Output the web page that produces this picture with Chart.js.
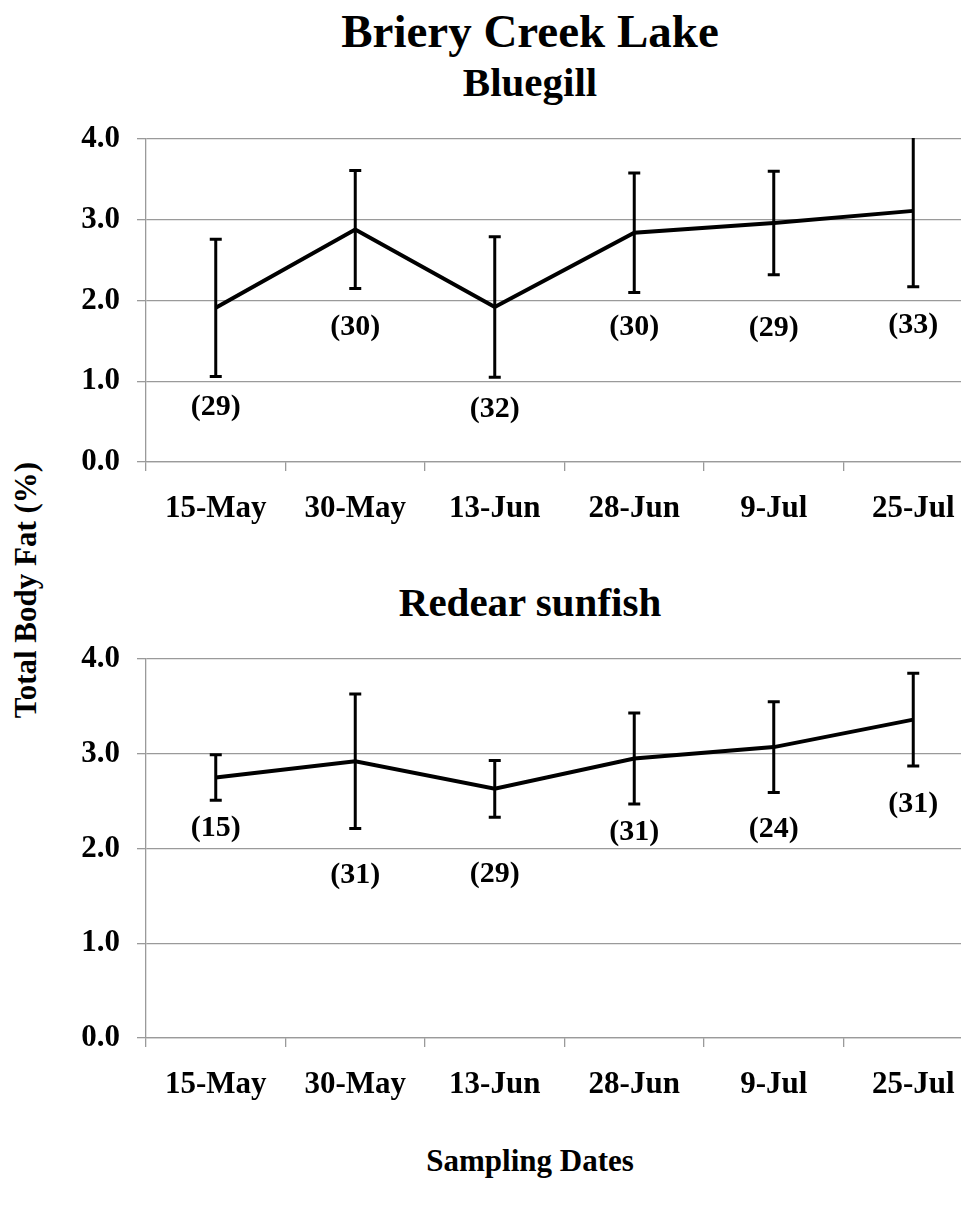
<!DOCTYPE html>
<html>
<head>
<meta charset="utf-8">
<script src="https://cdn.jsdelivr.net/npm/chart.js@4/dist/chart.umd.min.js"></script>
<style>
  html, body { margin: 0; padding: 0; background: #fff; overflow: hidden; }
  body { width: 961px; height: 1206px; position: relative; font-family: 'Liberation Serif', 'Times New Roman', serif; font-weight: bold; color: #000; }
  .txt { position: absolute; white-space: nowrap; line-height: 1; }
  .center { transform: translate(-50%, -50%); }
  canvas { position: absolute; left: 0; }
</style>
</head>
<body>
<div class="txt center" style="left:530px; top:31px; font-size:47px;">Briery Creek Lake</div>
<div class="txt center" style="left:530px; top:82px; font-size:41px;">Bluegill</div>
<div class="txt center" style="left:530px; top:602px; font-size:41px;">Redear sunfish</div>
<div class="txt center" style="left:530px; top:1160px; font-size:31px;">Sampling Dates</div>
<div class="txt" style="left:25px; top:590px; font-size:31px; transform: translate(-50%, -50%) rotate(-90deg);">Total Body Fat (%)</div>

<canvas id="bluegill" width="990" height="422" style="top:120px;"></canvas>
<canvas id="redear" width="990" height="478" style="top:640px;"></canvas>

<script>
// sampling dates (x categories)
const dates = ['15-May', '30-May', '13-Jun', '28-Jun', '9-Jul', '25-Jul'];
const yTickValues = [0, 1, 2, 3, 4];

// Bluegill: mean total body fat (%), error (+/-), sample size
const bluegillFat = [1.91, 2.88, 1.92, 2.84, 2.96, 3.11];
const bluegillErr = [0.85, 0.73, 0.87, 0.74, 0.64, 0.94];
const bluegillN = [29, 30, 32, 30, 29, 33];

// Redear sunfish
const redearFat = [2.75, 2.92, 2.63, 2.95, 3.07, 3.36];
const redearErr = [0.24, 0.71, 0.30, 0.48, 0.48, 0.49];
const redearN = [15, 31, 29, 31, 24, 31];

const FONT = "'Liberation Serif', 'Times New Roman', serif";
const GRID = '#9a9a9a';

// draws the error bars and the (n) labels under them
function errorBarPlugin(err, n, labelGap) {
  return {
    id: 'errorBars',
    afterDatasetsDraw(chart) {
      const { ctx, chartArea, scales } = chart;
      const means = chart.data.datasets[0].data;
      ctx.save();
      ctx.beginPath();
      ctx.rect(chartArea.left, chartArea.top - 1, chartArea.right - chartArea.left, chartArea.bottom - chartArea.top + 1);
      ctx.clip();
      ctx.strokeStyle = '#000';
      ctx.lineWidth = 3;
      means.forEach((m, i) => {
        const px = scales.x.getPixelForValue(i);
        const hi = scales.y.getPixelForValue(m + err[i]);
        const lo = scales.y.getPixelForValue(m - err[i]);
        ctx.beginPath();
        ctx.moveTo(px, hi); ctx.lineTo(px, lo);
        ctx.moveTo(px - 6, hi); ctx.lineTo(px + 6, hi);
        ctx.moveTo(px - 6, lo); ctx.lineTo(px + 6, lo);
        ctx.stroke();
      });
      ctx.restore();

      ctx.save();
      ctx.fillStyle = '#000';
      ctx.font = 'bold 30px ' + FONT;
      ctx.textAlign = 'center';
      ctx.textBaseline = 'middle';
      means.forEach((m, i) => {
        const px = scales.x.getPixelForValue(i);
        const lo = scales.y.getPixelForValue(m - err[i]);
        ctx.fillText('(' + n[i] + ')', px, lo + labelGap[i]);
      });
      ctx.restore();
    }
  };
}

function makeChart(id, values, err, n, labelGap) {
  return new Chart(document.getElementById(id), {
    type: 'line',
    data: {
      labels: dates,
      datasets: [{
        data: values,
        borderColor: '#000',
        borderWidth: 4,
        pointRadius: 0,
        tension: 0,
        fill: false
      }]
    },
    options: {
      responsive: false,
      animation: false,
      layout: { padding: { top: 19, right: 7, left: 0, bottom: 0 } },
      plugins: { legend: { display: false }, tooltip: { enabled: false } },
      scales: {
        x: {
          offset: true,
          grid: { offset: true, drawOnChartArea: false, drawTicks: true, tickLength: 9, color: GRID, lineWidth: 1.3 },
          border: { color: GRID, width: 1.3 },
          ticks: { color: '#000', padding: 19, maxRotation: 0, font: { family: FONT, size: 31, weight: 'bold' } },
          afterFit: s => { s.height = 80; }
        },
        y: {
          min: 0,
          max: 4,
          afterBuildTicks: s => { s.ticks = yTickValues.map(v => ({ value: v })); },
          grid: { color: GRID, lineWidth: 1.3, tickLength: 9 },
          border: { color: GRID, width: 1.3 },
          ticks: { color: '#000', padding: 17, callback: v => v.toFixed(1), font: { family: FONT, size: 31, weight: 'bold' } },
          afterFit: s => { s.width = 146; s.paddingTop = 0; s.paddingBottom = 0; }
        }
      }
    },
    plugins: [errorBarPlugin(err, n, labelGap)]
  });
}

makeChart('bluegill', bluegillFat, bluegillErr, bluegillN, [31, 39, 32, 35, 54, 38]);
makeChart('redear', redearFat, redearErr, redearN, [28, 47, 57, 28, 37, 38]);
</script>
</body>
</html>
